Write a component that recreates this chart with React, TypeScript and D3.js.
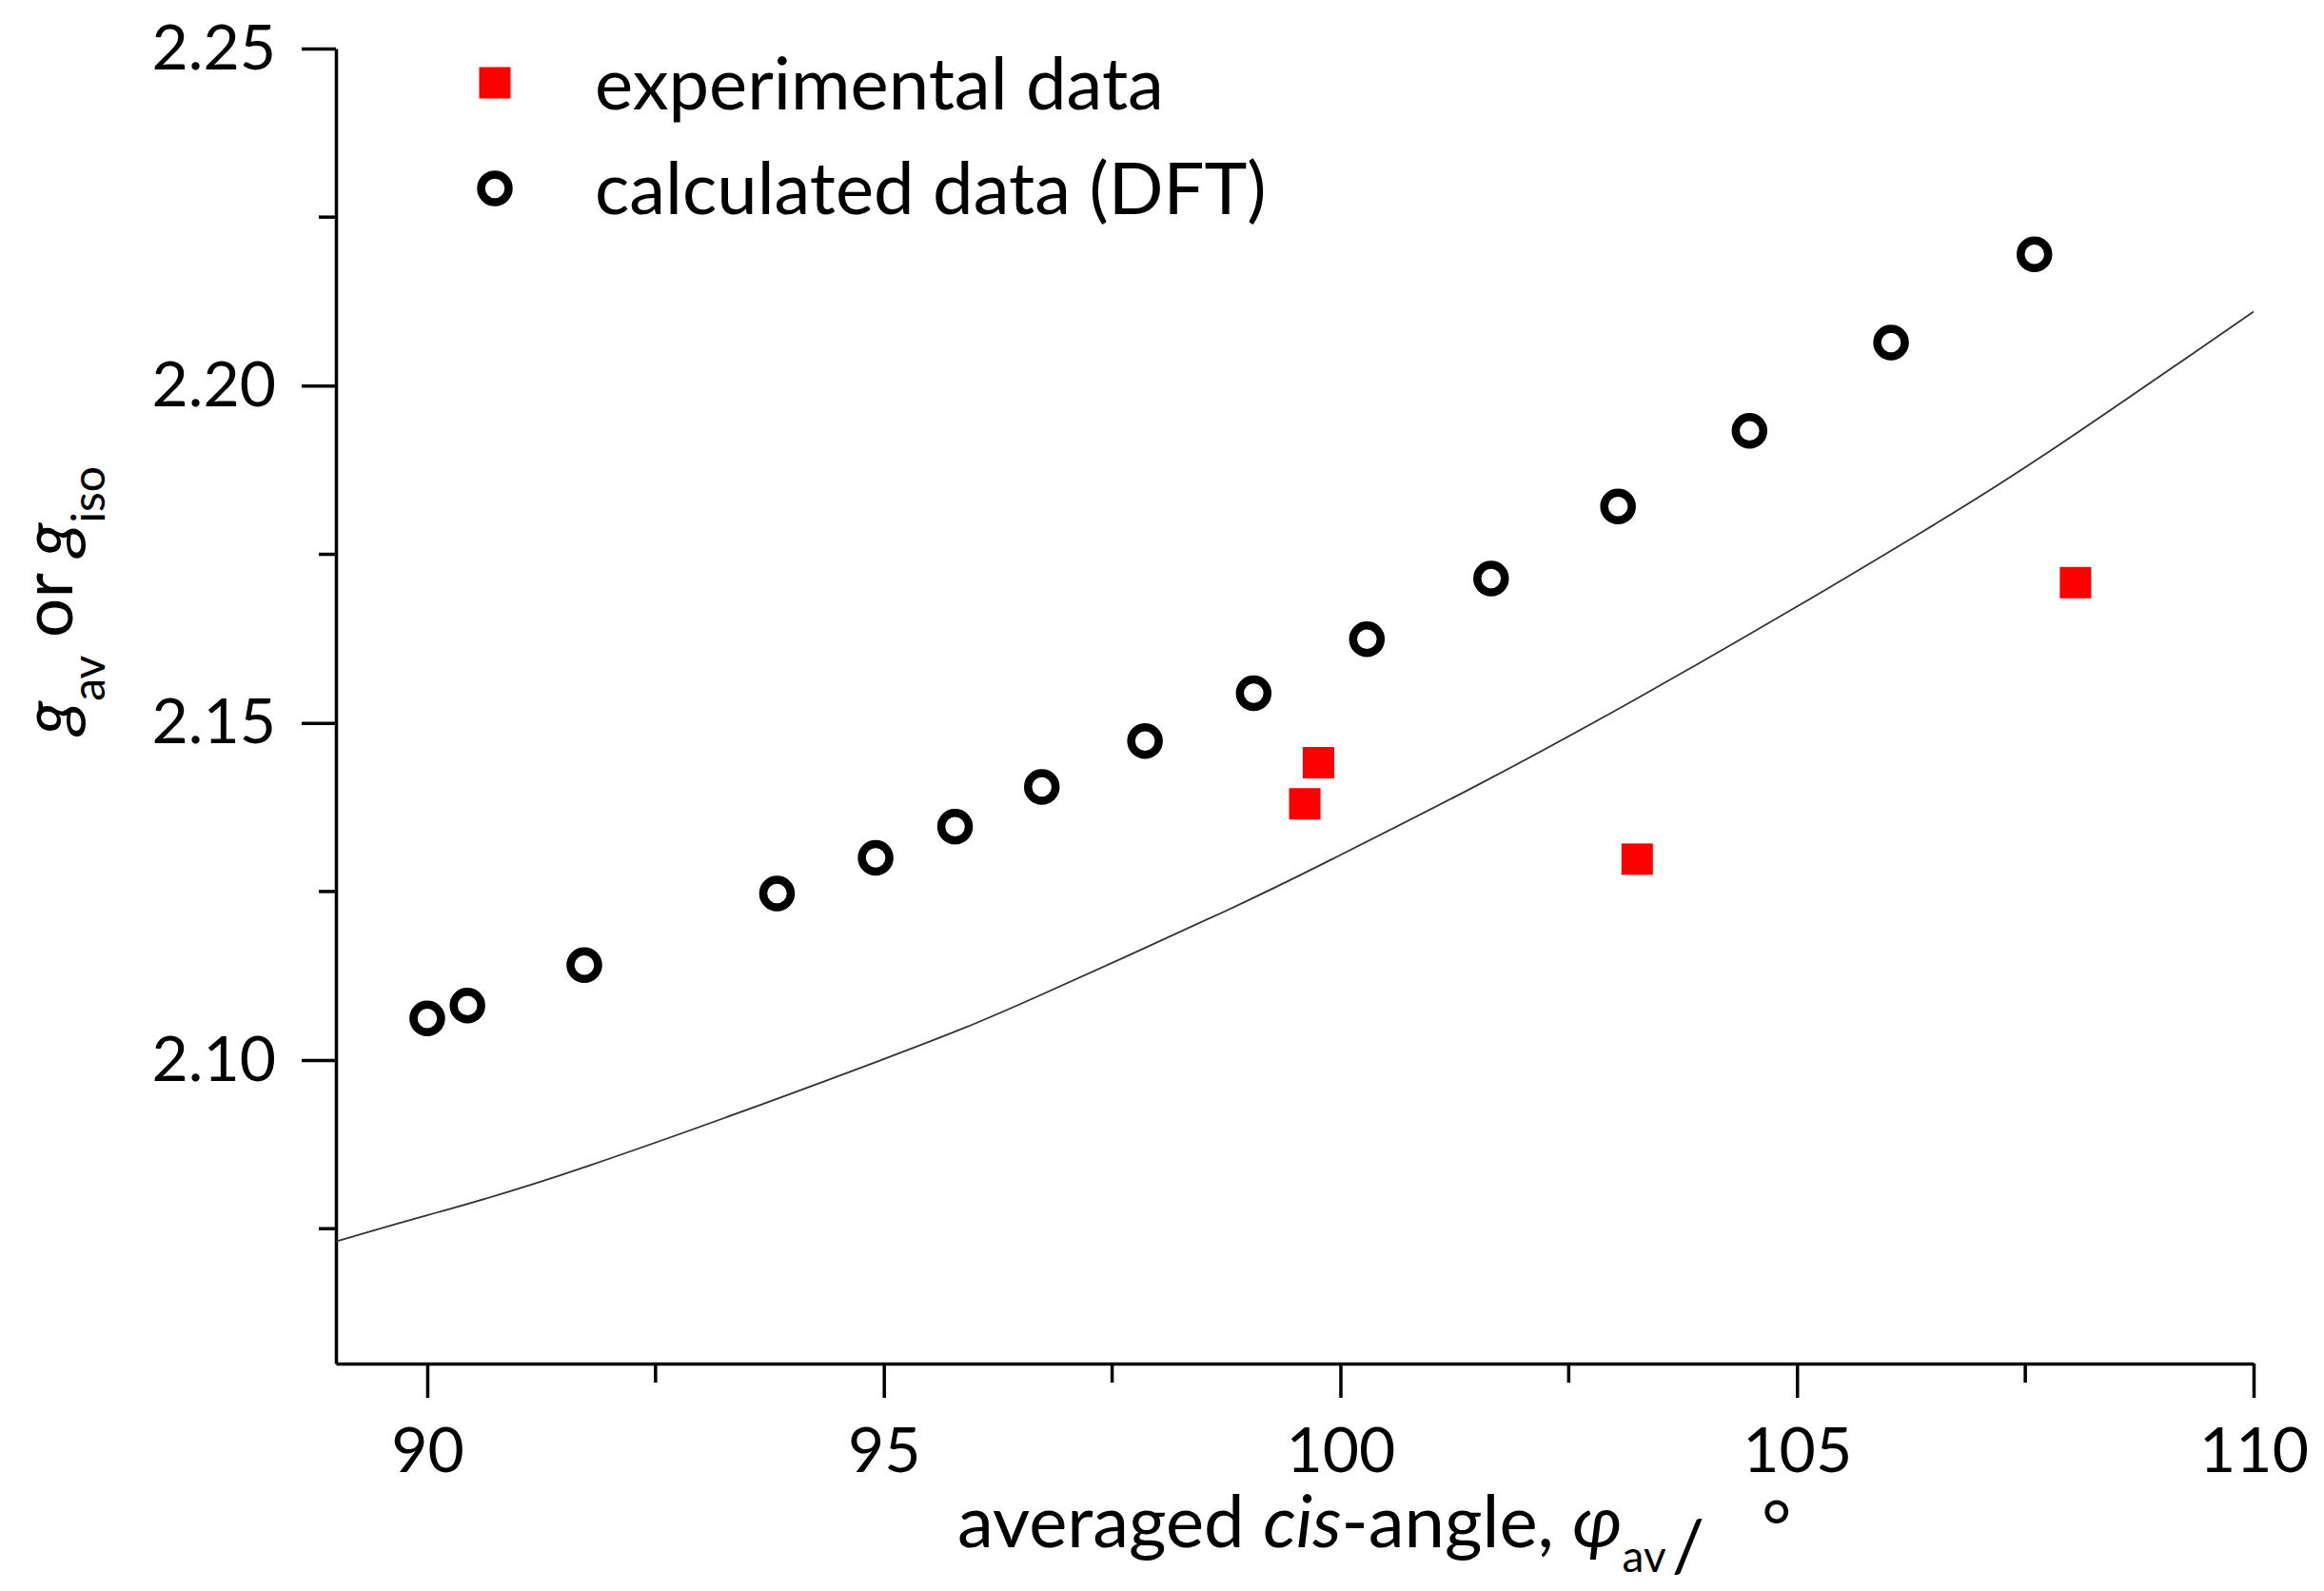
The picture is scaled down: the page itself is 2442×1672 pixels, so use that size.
import React, { useEffect, useRef } from 'react';
import * as d3 from 'd3';

// calculated data (DFT): averaged cis-angle vs g
const calcAngle = [90.0, 90.44, 91.72, 93.83, 94.91, 95.78, 96.73, 97.86, 99.05, 100.29, 101.65, 103.04, 104.48, 106.03, 107.6];
const calcG = [2.1062, 2.1081, 2.1141, 2.1247, 2.13, 2.1346, 2.1405, 2.1473, 2.1544, 2.1624, 2.1714, 2.1821, 2.1933, 2.2064, 2.2195];

// experimental data
const expAngle = [99.61, 99.76, 103.25, 108.05];
const expG = [2.138, 2.1441, 2.1298, 2.1708];

// smooth reference curve
const curveAngle = [89.0, 90.0, 91.76, 94.97, 96.71, 98.74, 99.91, 101.49, 103.23, 104.98, 106.38, 107.77, 110.0];
const curveG = [2.0731, 2.077, 2.0843, 2.1, 2.1096, 2.1221, 2.1298, 2.1407, 2.1535, 2.1671, 2.1784, 2.1903, 2.211];

const xMajor = [90, 95, 100, 105, 110];
const xMinor = [92.5, 97.5, 102.5, 107.5];
const yMajor = [2.1, 2.15, 2.2, 2.25];
const yMinor = [2.075, 2.125, 2.175, 2.225];

const legendLabels = ['experimental data', 'calculated data (DFT)'];

const FONT = 'Lato, "Open Sans", sans-serif';

const App: React.FC = () => {
  const svgRef = useRef<SVGSVGElement>(null);
  const width = 2442;
  const height = 1672;

  useEffect(() => {
    if (!svgRef.current) return;
    const svg = d3.select(svgRef.current);
    svg.selectAll('*').remove();

    const x = d3.scaleLinear().domain([89, 110]).range([353, 2368]);
    const y = d3.scaleLinear().domain([2.055, 2.25]).range([1433, 51]);

    svg.append('rect').attr('width', width).attr('height', height).attr('fill', '#fff');

    // x axis
    const xAxis = svg.append('g')
      .attr('transform', `translate(0,${y(2.055)})`)
      .call(d3.axisBottom(x).tickValues(xMajor).tickSize(36).tickSizeOuter(0).tickPadding(31).tickFormat(d3.format('d')));
    xAxis.select('.domain').attr('stroke-width', 3.5);
    xAxis.selectAll('.tick line').attr('stroke-width', 3.5);
    xAxis.selectAll('.tick text').attr('font-size', 66).attr('font-family', FONT).attr('fill', '#000');
    xAxis.append('g').selectAll('line').data(xMinor).join('line')
      .attr('x1', d => x(d)).attr('x2', d => x(d))
      .attr('y1', 0).attr('y2', 20)
      .attr('stroke', '#000').attr('stroke-width', 3.5);

    // y axis
    const yAxis = svg.append('g')
      .attr('transform', `translate(${x(89)},0)`)
      .call(d3.axisLeft(y).tickValues(yMajor).tickSize(36).tickSizeOuter(0).tickPadding(27).tickFormat(d3.format('.2f')));
    yAxis.select('.domain').attr('stroke-width', 3.5);
    yAxis.selectAll('.tick line').attr('stroke-width', 3.5);
    yAxis.selectAll('.tick text').attr('font-size', 66).attr('font-family', FONT).attr('fill', '#000');
    yAxis.append('g').selectAll('line').data(yMinor).join('line')
      .attr('y1', d => y(d)).attr('y2', d => y(d))
      .attr('x1', 0).attr('x2', -18)
      .attr('stroke', '#000').attr('stroke-width', 3.5);

    // curve
    const line = d3.line<number>()
      .x((_, i) => x(curveAngle[i]))
      .y(d => y(d))
      .curve(d3.curveNatural);
    svg.append('path')
      .datum(curveG)
      .attr('d', line)
      .attr('fill', 'none')
      .attr('stroke', '#333')
      .attr('stroke-width', 1.8);

    // calculated circles
    svg.append('g').selectAll('circle').data(calcG).join('circle')
      .attr('cx', (_, i) => x(calcAngle[i]))
      .attr('cy', d => y(d))
      .attr('r', 14.5)
      .attr('fill', 'none')
      .attr('stroke', '#000')
      .attr('stroke-width', 8.5);

    // experimental squares
    const sq = 33;
    svg.append('g').selectAll('rect').data(expG).join('rect')
      .attr('x', (_, i) => x(expAngle[i]) - sq / 2)
      .attr('y', d => y(d) - sq / 2)
      .attr('width', sq)
      .attr('height', sq)
      .attr('fill', '#ff0000');

    // legend
    const legend = svg.append('g');
    legend.append('rect').attr('x', 520 - sq / 2).attr('y', 87 - sq / 2).attr('width', sq).attr('height', sq).attr('fill', '#ff0000');
    legend.append('circle').attr('cx', 520).attr('cy', 198).attr('r', 14.5)
      .attr('fill', 'none').attr('stroke', '#000').attr('stroke-width', 8.5);
    legend.selectAll('text').data(legendLabels).join('text')
      .attr('x', 625)
      .attr('y', (_, i) => (i === 0 ? 115 : 225))
      .attr('font-size', 76)
      .attr('font-family', FONT)
      .attr('fill', '#000')
      .text(d => d);

    // x title
    const xt = svg.append('text')
      .attr('x', 1006).attr('y', 1626)
      .attr('font-size', 76)
      .attr('font-family', FONT)
      .attr('fill', '#000');
    xt.append('tspan').text('averaged ');
    xt.append('tspan').attr('font-style', 'italic').text('cis');
    xt.append('tspan').text('-angle, ');
    xt.append('tspan').attr('font-style', 'italic').text('φ');
    xt.append('tspan').attr('font-size', 46).attr('dy', 26).text('av');
    xt.append('tspan').attr('dx', 6).text('/');
    xt.append('tspan').attr('dy', -20).attr('dx', 60).text('°');

    // y title
    const yt = svg.append('text')
      .attr('transform', 'translate(76,631) rotate(-90)')
      .attr('text-anchor', 'middle')
      .attr('font-size', 73)
      .attr('font-family', FONT)
      .attr('fill', '#000');
    yt.append('tspan').attr('font-style', 'italic').text('g');
    yt.append('tspan').attr('font-size', 48).attr('dy', 34).text('av');
    yt.append('tspan').attr('dy', -34).text(' or ');
    yt.append('tspan').attr('font-style', 'italic').text('g');
    yt.append('tspan').attr('font-size', 48).attr('dy', 34).text('iso');
  }, []);

  return (
    <svg
      ref={svgRef}
      width={width}
      height={height}
      style={{ position: 'absolute', left: 0, top: 0, display: 'block' }}
    />
  );
};

export default App;
